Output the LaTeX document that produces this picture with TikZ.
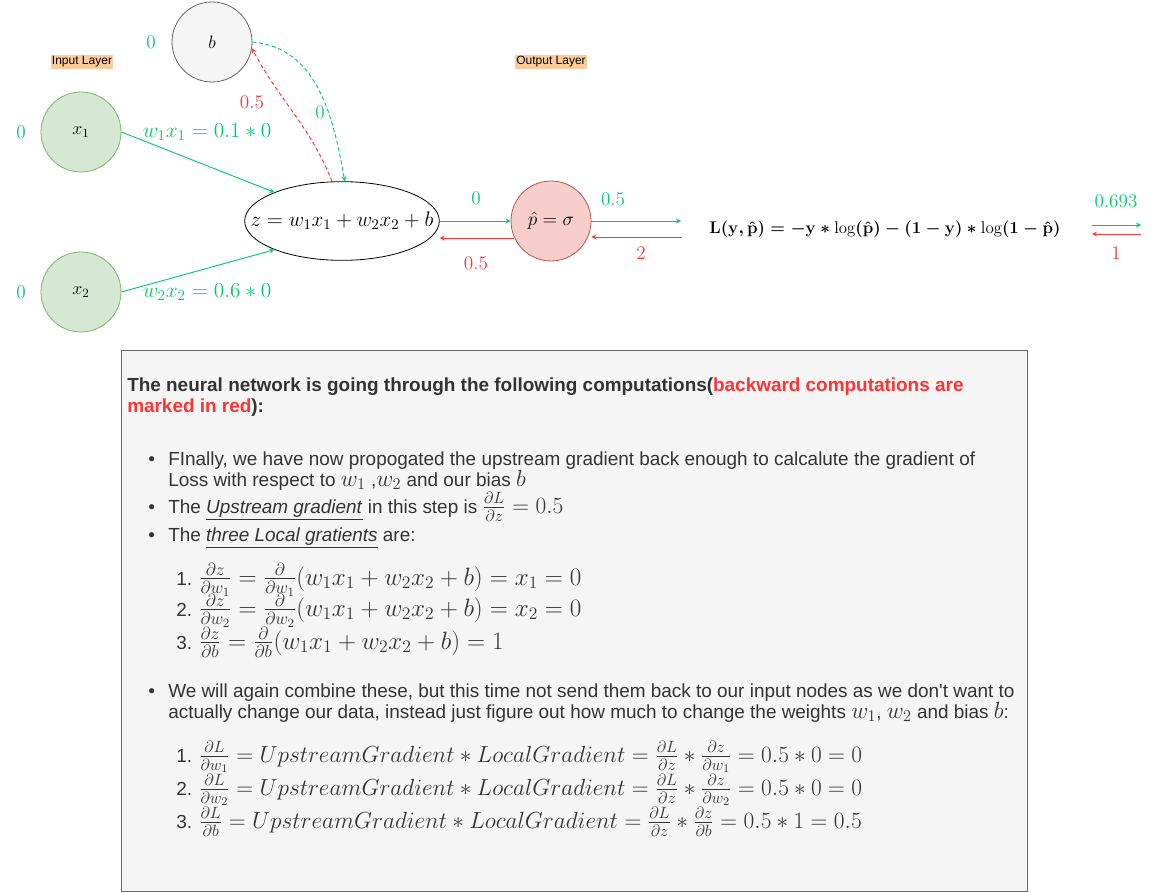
\documentclass[tikz,border=0pt]{standalone}
\usepackage{fix-cm}
\usepackage{amsmath}
\usepackage{fontspec}
\setsansfont{Liberation Sans}
\usetikzlibrary{shapes.geometric}

\definecolor{fwdgreen}{HTML}{00CC66}
\definecolor{bwdred}{HTML}{FF3333}
\definecolor{boxgray}{HTML}{F5F5F5}
\definecolor{edgegray}{HTML}{666666}
\definecolor{inputfill}{HTML}{D5E8D4}
\definecolor{inputedge}{HTML}{82B366}
\definecolor{outfill}{HTML}{F8CECC}
\definecolor{outedge}{HTML}{B85450}
\definecolor{layerfill}{HTML}{FFCC99}
\definecolor{bodytext}{HTML}{333333}

\newcommand{\mathsz}{\fontsize{17.5}{20}\selectfont}
\newcommand{\mathszb}{\fontsize{18.8}{21}\selectfont}
\newcommand{\lossformula}{$\mathbf{L(y,\hat{p}) = -y \ast \textnormal{log}(\hat{p}) - (1-y) \ast \textnormal{log}(1-\hat{p})}$}

\begin{document}
\begin{tikzpicture}[x=0.75pt,y=-0.75pt,
  neuron/.style={circle, minimum size=60pt, inner sep=0pt, line width=0.6pt, font=\fontsize{13.5}{16}\selectfont},
  val/.style={font=\fontsize{14.4}{17}\selectfont, inner sep=1pt},
  layer/.style={fill=layerfill, inner sep=1pt, font=\sffamily\fontsize{9}{10}\selectfont},
  fwd/.style={draw=fwdgreen, line width=0.7pt, -stealth},
  bwd/.style={draw=bwdred, line width=0.7pt, -stealth},
  boxtxt/.style={anchor=base west, inner sep=0pt, text=bodytext, font=\sffamily\fontsize{14.2}{17}\selectfont}]
\useasboundingbox (0,0) rectangle (1151,892);

% Neurons
\node[neuron, draw=edgegray, fill=boxgray] (b) at (212,42) {$b$};
\node[neuron, draw=inputedge, fill=inputfill] (x1) at (81,132) {$x_1$};
\node[neuron, draw=inputedge, fill=inputfill] (x2) at (81,292) {$x_2$};
\node[ellipse, draw, minimum width=146pt, minimum height=59pt, inner sep=0pt, line width=0.6pt, font=\fontsize{15.8}{19}\selectfont] (z) at (342,221) {\makebox[0pt]{$z = w_1x_1 + w_2x_2 + b$}};
\node[neuron, draw=outedge, fill=outfill, font=\fontsize{14.4}{17}\selectfont] (p) at (551,221) {$\hat{p} = \sigma$};
\node[font=\fontsize{12.65}{15}\selectfont\boldmath] (loss) at (885,229) {\lossformula};

% Layer labels
\node[layer] (inlab) at (82,62) {Input Layer};
\node[layer] (outlab) at (551,62) {Output Layer};

% Input values
\node[val, text=fwdgreen] (b0) at (151,42) {$0$};
\node[val, text=fwdgreen] (x10) at (21,132) {$0$};
\node[val, text=fwdgreen] (x20) at (21,292) {$0$};

% Forward pass
\draw[fwd] (x1.east) -- (z.157);
\draw[fwd] (x2.east) -- (z.203);
\draw[fwd, densely dashed] (b.east) to[out=-5, in=100] (z.86);
\draw[fwd] (z.east) -- (p.west);
\coordinate (pout) at (681,221);
\draw[fwd] (p.east) -- (pout);
\coordinate (lossout) at (1092,225);
\coordinate (lossend) at (1141,225);
\draw[fwd] (lossout) -- (lossend);

\node[val, text=fwdgreen, font=\fontsize{16}{19}\selectfont] (w1lab) at (207,132) {$w_1x_1 = 0.1 \ast 0$};
\node[val, text=fwdgreen, font=\fontsize{16}{19}\selectfont] (w2lab) at (207,292) {$w_2x_2 = 0.6 \ast 0$};
\node[val, text=fwdgreen] (blab) at (320,112) {$0$};
\node[val, text=fwdgreen] (zlab) at (476,198) {$0$};
\node[val, text=fwdgreen] (plab) at (613,199) {$0.5$};
\node[val, text=fwdgreen] (losslab) at (1116,201) {$0.693$};

% Backward pass
\coordinate (gradin) at (1141,234);
\coordinate (gradend) at (1092,234);
\draw[bwd] (gradin) -- (gradend);
\coordinate (pin) at (682,237);
\draw[bwd] (pin) -- (pin -| p.east);
\draw[bwd] (p.205) -- (p.205 -| z.east);
\draw[bwd, densely dashed] (z.104) to[out=112, in=-62] (b.-9);

\node[val, text=bwdred] (gradlab) at (1116,253) {$1$};
\node[val, text=bwdred] (pgrad) at (641,253) {$2$};
\node[val, text=bwdred] (zgrad) at (476,263) {$0.5$};
\node[val, text=bwdred] (bgrad) at (252,102) {$0.5$};

% Explanation panel
\node[draw=edgegray, fill=boxgray, line width=0.6pt, anchor=north west, inner sep=0pt, minimum width=679.5pt, minimum height=405.75pt] (panel) at (121,350) {};

\node[boxtxt, font=\sffamily\bfseries\fontsize{14.2}{17}\selectfont] (head1) at (127,391) {The neural network is going through the following computations(\textcolor{bwdred}{backward computations are}};
\node[boxtxt, font=\sffamily\bfseries\fontsize{14.2}{17}\selectfont] (head2) at (127,412) {\textcolor{bwdred}{marked in red}):};

\node[boxtxt] (dot1) at (148,465) {\textbullet};
\node[boxtxt] (l1) at (168,465) {FInally, we have now propogated the upstream gradient back enough to calcalute the gradient of};
\node[boxtxt] (l2) at (168,486) {Loss with respect to {\mathsz$w_1$} ,{\mathsz$w_2$} and our bias {\mathsz$b$}};
\node[boxtxt] (dot2) at (148,513) {\textbullet};
\node[boxtxt] (l3) at (168,513) {The \underline{\textit{Upstream gradient}} in this step is {\mathsz$\frac{\partial L}{\partial z} = 0.5$}};
\node[boxtxt] (dot3) at (148,541) {\textbullet};
\node[boxtxt] (l4) at (168,541) {The \underline{\textit{three Local gratients}} are:};

\node[boxtxt] (n1) at (176,585) {1. {\mathszb$\frac{\partial z}{\partial w_1} = \frac{\partial}{\partial w_1}(w_1x_1 + w_2x_2 + b) = x_1 = 0$}};
\node[boxtxt] (n2) at (176,616) {2. {\mathszb$\frac{\partial z}{\partial w_2} = \frac{\partial}{\partial w_2}(w_1x_1 + w_2x_2 + b) = x_2 = 0$}};
\node[boxtxt] (n3) at (176,649) {3. {\mathszb$\frac{\partial z}{\partial b} = \frac{\partial}{\partial b}(w_1x_1 + w_2x_2 + b) = 1$}};

\node[boxtxt] (dot4) at (148,697) {\textbullet};
\node[boxtxt] (l5) at (168,697) {We will again combine these, but this time not send them back to our input nodes as we don\textquotesingle t want to};
\node[boxtxt] (l6) at (168,718) {actually change our data, instead just figure out how much to change the weights {\mathsz$w_1$}, {\mathsz$w_2$} and bias {\mathsz$b$}:};

\node[boxtxt] (m1) at (176,762) {1. {\mathsz$\frac{\partial L}{\partial w_1} = UpstreamGradient \ast LocalGradient = \frac{\partial L}{\partial z} \ast \frac{\partial z}{\partial w_1} = 0.5 \ast 0 = 0$}};
\node[boxtxt] (m2) at (176,795) {2. {\mathsz$\frac{\partial L}{\partial w_2} = UpstreamGradient \ast LocalGradient = \frac{\partial L}{\partial z} \ast \frac{\partial z}{\partial w_2} = 0.5 \ast 0 = 0$}};
\node[boxtxt] (m3) at (176,828) {3. {\mathsz$\frac{\partial L}{\partial b} = UpstreamGradient \ast LocalGradient = \frac{\partial L}{\partial z} \ast \frac{\partial z}{\partial b} = 0.5 \ast 1 = 0.5$}};
\end{tikzpicture}
\end{document}
